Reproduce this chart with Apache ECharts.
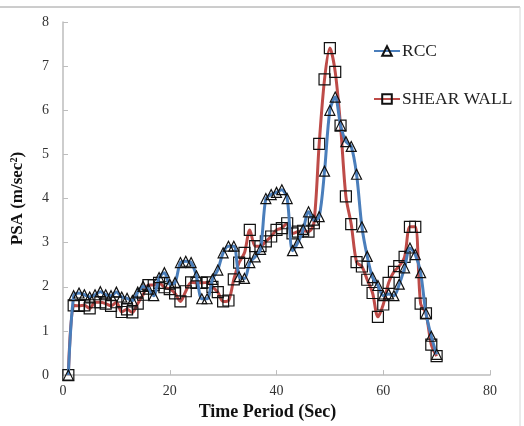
<!DOCTYPE html>
<html>
<head>
<meta charset="utf-8">
<script src="https://cdn.jsdelivr.net/npm/echarts@6/dist/echarts.min.js"></script>
<style>
  html, body { margin: 0; padding: 0; background: #fff; }
  #chart { width: 524px; height: 426px; }
</style>
</head>
<body>
<div id="chart"></div>
<script>
// time (sec), one reading per second
const timeSec = [
  1, 2, 3, 4, 5, 6, 7, 8, 9, 10, 11, 12, 13, 14, 15, 16, 17, 18, 19, 20,
  21, 22, 23, 24, 25, 26, 27, 28, 29, 30, 31, 32, 33, 34, 35, 36, 37, 38, 39, 40,
  41, 42, 43, 44, 45, 46, 47, 48, 49, 50, 51, 52, 53, 54, 55, 56, 57, 58, 59, 60,
  61, 62, 63, 64, 65, 66, 67, 68, 69, 70
];

// PSA values
const rccPSA = [
  0, 1.80, 1.86, 1.82, 1.77, 1.82, 1.89, 1.82, 1.80, 1.88,
  1.77, 1.74, 1.69, 1.88, 2.01, 1.95, 1.80, 2.21, 2.32, 2.06,
  2.10, 2.55, 2.58, 2.55, 2.25, 1.73, 1.73, 2.17, 2.38, 2.77,
  2.92, 2.92, 2.23, 2.19, 2.55, 2.68, 2.85, 4.00, 4.09, 4.14,
  4.20, 4.00, 2.82, 3.00, 3.30, 3.70, 3.51, 3.59, 4.62, 6.00,
  6.30, 5.66, 5.29, 5.18, 4.55, 3.36, 2.69, 2.21, 2.03, 1.80,
  1.84, 1.80, 2.06, 2.43, 2.88, 2.73, 2.32, 1.40, 0.88, 0.47
];

const shearWallPSA = [
  0, 1.58, 1.57, 1.58, 1.51, 1.65, 1.65, 1.62, 1.57, 1.65,
  1.43, 1.49, 1.42, 1.62, 1.82, 2.04, 2.04, 2.09, 1.99, 1.95,
  1.85, 1.67, 1.90, 2.10, 2.09, 2.09, 2.10, 2.00, 1.88, 1.67,
  1.69, 2.17, 2.55, 2.77, 3.29, 2.92, 2.92, 3.03, 3.14, 3.29,
  3.33, 3.44, 3.21, 3.25, 3.27, 3.25, 3.44, 5.24, 6.70, 7.41,
  6.87, 5.65, 4.05, 3.42, 2.56, 2.46, 2.16, 1.86, 1.32, 1.60,
  2.09, 2.34, 2.47, 2.68, 3.36, 3.36, 1.62, 1.40, 0.69, 0.43
];

const seriesNames = ['RCC', 'SHEAR WALL'];
const xTicks = { min: 0, max: 80, interval: 20 };
const yTicks = { min: 0, max: 8, interval: 1 };

const serif = 'Liberation Serif';
const pairs = (ys) => timeSec.map((t, i) => [t, ys[i]]);

const chart = echarts.init(document.getElementById('chart'), null, { renderer: 'canvas' });
chart.setOption({
  animation: false,
  backgroundColor: '#fff',
  grid: { left: 63, right: 34, top: 22, bottom: 45 },
  legend: {
    orient: 'vertical',
    left: 368,
    top: 37,
    itemGap: 30,
    itemWidth: 26,
    itemHeight: 12,
    textStyle: { fontFamily: serif, fontSize: 17.5, color: '#222', padding: [0, 0, 0, -3] },
    data: seriesNames,
  },
  xAxis: {
    type: 'value',
    min: xTicks.min,
    max: xTicks.max,
    interval: xTicks.interval,
    name: 'Time Period (Sec)',
    nameLocation: 'middle',
    nameGap: 26,
    nameTextStyle: { fontFamily: serif, fontSize: 18, fontWeight: 'bold', color: '#111', padding: [0, 18, 0, 0] },
    axisLine: { lineStyle: { color: '#bdbdbd', width: 1.5 } },
    axisTick: { inside: true, length: 5, lineStyle: { color: '#bdbdbd' } },
    axisLabel: { fontFamily: serif, fontSize: 14, color: '#333', margin: 9 },
    splitLine: { show: false },
  },
  yAxis: {
    type: 'value',
    min: yTicks.min,
    max: yTicks.max,
    interval: yTicks.interval,
    name: 'PSA (m/sec²)',
    nameLocation: 'middle',
    nameGap: 37,
    nameTextStyle: { fontFamily: serif, fontSize: 17, fontWeight: 'bold', color: '#111' },
    axisLine: { show: true, lineStyle: { color: '#bdbdbd', width: 1.5 } },
    axisTick: { show: true, inside: true, length: 5, lineStyle: { color: '#bdbdbd' } },
    axisLabel: { fontFamily: serif, fontSize: 14, color: '#333', margin: 14 },
    splitLine: { show: false },
  },
  graphic: [
    { type: 'line', shape: { x1: 0, y1: 7, x2: 520, y2: 7 }, style: { stroke: '#9a9a9a', lineWidth: 1 } },
    { type: 'line', shape: { x1: 520, y1: 7, x2: 520, y2: 426 }, style: { stroke: '#d6d6d6', lineWidth: 1 } },
  ],
  series: [
    {
      name: seriesNames[0],
      type: 'line',
      smooth: 0.3,
      data: pairs(rccPSA),
      symbol: 'triangle',
      symbolSize: 10,
      color: '#4a7ebb',
      lineStyle: { color: '#4a7ebb', width: 3 },
      itemStyle: { color: 'rgba(255,255,255,0)', borderColor: '#111', borderWidth: 1.2 },
      z: 3,
    },
    {
      name: seriesNames[1],
      type: 'line',
      smooth: 0.3,
      data: pairs(shearWallPSA),
      symbol: 'rect',
      symbolSize: 11,
      color: '#be4b48',
      lineStyle: { color: '#be4b48', width: 3 },
      itemStyle: { color: 'rgba(255,255,255,0)', borderColor: '#111', borderWidth: 1.2 },
      z: 2,
    },
  ],
});
</script>
</body>
</html>
